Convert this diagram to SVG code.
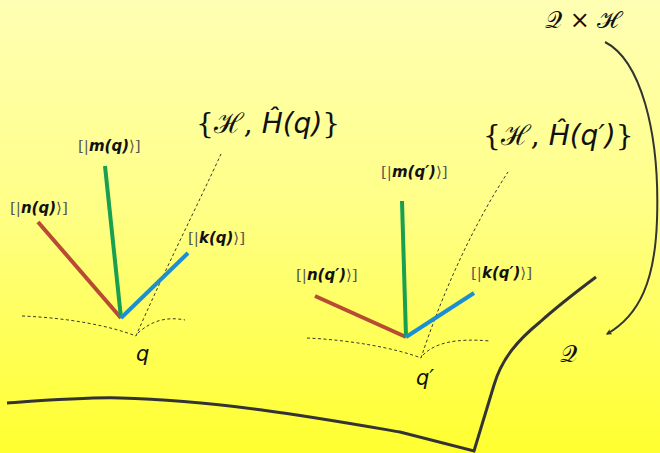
<svg xmlns="http://www.w3.org/2000/svg" width="660" height="453" viewBox="0 0 660 453">
<defs>
<linearGradient id="bg" x1="0" y1="0" x2="0" y2="1">
<stop offset="0" stop-color="#ffffb4"/>
<stop offset="0.45" stop-color="#ffff88"/>
<stop offset="1" stop-color="#ffff30"/>
</linearGradient>
<marker id="ah" viewBox="0 0 10 10" refX="8" refY="5" markerWidth="6" markerHeight="6" orient="auto" markerUnits="userSpaceOnUse">
<path d="M0,0 L10,5 L0,10 L3,5 Z" fill="#333"/>
</marker>
<style>
.dash{fill:none;stroke:#222;stroke-width:0.9;stroke-dasharray:3,2.5}
.vr{stroke:#b84b33;stroke-width:4;stroke-linecap:butt}
.vg{stroke:#18a050;stroke-width:4}
.vb{stroke:#1b8fcf;stroke-width:4}
.lab{font-family:"DejaVu Sans",sans-serif;font-size:15px;fill:#111}
.br{font-family:"DejaVu Serif",serif;font-weight:normal;font-style:normal;fill:#555}
.in{font-weight:bold;font-style:oblique}
.big{font-family:"DejaVu Serif",serif;font-size:28px;fill:#111}
.it{font-family:"DejaVu Sans",sans-serif;font-style:oblique}
.curve{fill:none;stroke:#333;stroke-width:3}
</style>
</defs>
<rect width="660" height="453" fill="url(#bg)"/>
<g id="manifold">
<path class="curve" d="M7,403 C50,400 90,397 120,398 C220,400 330,420 400,432 L474,451 L494,385 C502,358 518,340 540,322 C560,304 580,289 596,277"/>
</g>
<g id="connectors">
<path d="M605,42 C640,60 660,130 657,220 C655,280 640,315 607,334" fill="none" stroke="#333" stroke-width="2" marker-end="url(#ah)"/>
</g>
<g id="node-q">
<path class="dash" d="M22,316 C70,318 110,326 136,336"/>
<path class="dash" d="M136,336 C160,280 200,200 221,154"/>
<path class="dash" d="M138,333 C150,322 165,316 185,320"/>
<line class="vr" x1="121" y1="318" x2="38" y2="222"/>
<line class="vg" x1="121" y1="318" x2="105" y2="166"/>
<line class="vb" x1="121" y1="318" x2="188" y2="253"/>
<text class="lab" x="78" y="151"><tspan class="br">[|</tspan><tspan class="in">m(q)</tspan><tspan class="br">⟩]</tspan></text>
<text class="lab" x="10" y="213"><tspan class="br">[|</tspan><tspan class="in">n(q)</tspan><tspan class="br">⟩]</tspan></text>
<text class="lab" x="188" y="243"><tspan class="br">[|</tspan><tspan class="in">k(q)</tspan><tspan class="br">⟩]</tspan></text>
<text class="it" x="136" y="361" font-size="21" fill="#111">q</text>
<text class="big" x="196" y="133">{ℋ, <tspan class="it">Ĥ(q)</tspan>}</text>
</g>
<g id="node-qprime">
<path class="dash" d="M307,338 C350,340 395,348 421,358"/>
<path class="dash" d="M421,358 C440,300 470,230 508,172"/>
<path class="dash" d="M423,355 C435,343 455,338 490,341"/>
<line class="vr" x1="406" y1="337" x2="315" y2="296"/>
<line class="vg" x1="406" y1="337" x2="402" y2="201"/>
<line class="vb" x1="406" y1="337" x2="474" y2="293"/>
<text class="lab" x="381" y="177"><tspan class="br">[|</tspan><tspan class="in">m(q′)</tspan><tspan class="br">⟩]</tspan></text>
<text class="lab" x="296" y="280"><tspan class="br">[|</tspan><tspan class="in">n(q′)</tspan><tspan class="br">⟩]</tspan></text>
<text class="lab" x="471" y="278"><tspan class="br">[|</tspan><tspan class="in">k(q′)</tspan><tspan class="br">⟩]</tspan></text>
<text class="it" x="416" y="385" font-size="21" fill="#111">q′</text>
<text class="big" x="483" y="145">{ℋ, <tspan class="it">Ĥ(q′)</tspan>}</text>
</g>
<g id="labels">
<text x="545" y="28" font-family="DejaVu Serif,serif" font-size="24" fill="#111">𝒬 × ℋ</text>
<text x="560" y="362" font-family="DejaVu Serif,serif" font-size="24" fill="#111">𝒬</text>
</g>
</svg>
